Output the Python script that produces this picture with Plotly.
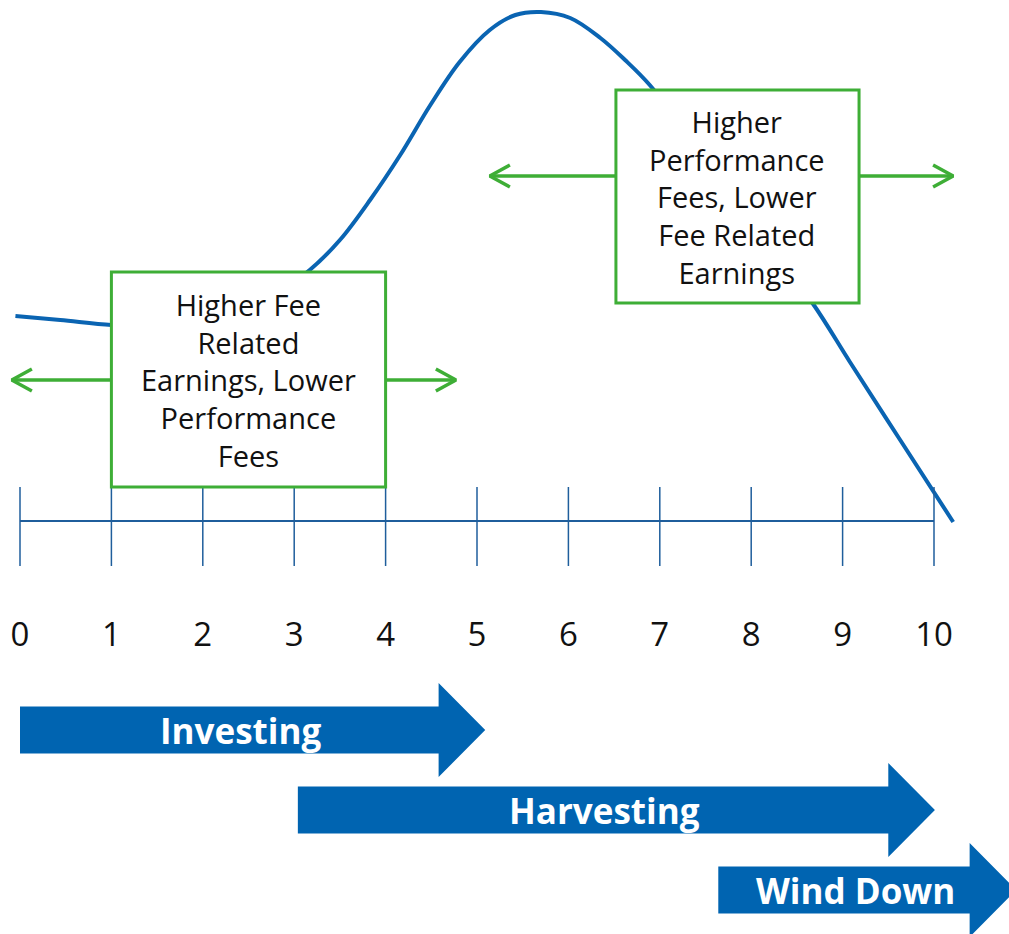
import plotly.graph_objects as go

# ---------------- data ----------------
# fund-life curve (x in years, y = height above the timeline, arbitrary units)
curve_x = [-0.05, 0.44, 1.0, 1.53, 2.19, 2.74, 3.17, 3.50, 3.83, 4.16, 4.49, 4.81,
           5.14, 5.42, 5.70, 6.02, 6.35, 6.62, 6.89, 7.44, 8.10, 8.67, 9.08, 9.63, 10.21]
curve_y = [205, 201, 196, 194, 203, 223, 251, 281, 321, 366, 416, 459,
           491, 506, 509, 503, 483, 461, 436, 371, 286, 218, 159, 81, -1]

# timeline
years = list(range(0, 11))
year_labels = [str(v) for v in years]

# callout boxes
box_text = ["Higher Fee<br>Related<br>Earnings, Lower<br>Performance<br>Fees",
            "Higher<br>Performance<br>Fees, Lower<br>Fee Related<br>Earnings"]
box_x0 = [1.0, 6.52]
box_x1 = [4.0, 9.18]
box_y0 = [34, 218]
box_y1 = [249, 431]
box_arrow_y = [141, 345]
box_arrow_left = [-0.09, 5.14]
box_arrow_right = [4.77, 10.21]

# phases
phases = ["Investing", "Harvesting", "Wind Down"]
phase_start = [0.0, 3.04, 7.64]
phase_end = [5.09, 10.01, 10.90]
phase_level = [-209, -289, -369]

# ---------------- style ----------------
BLUE = "#0A64B2"
ARROW_BLUE = "#0064B1"
AXIS_BLUE = "#1F5E9C"
GREEN = "#3EAE36"
FONT = "Open Sans, Noto Sans, sans-serif"

X_RANGE = [-0.2188, 10.8206]
Y_RANGE = [-413, 521]
TICK_UP, TICK_DOWN = 34, -45
LABEL_Y = -117
HEAD_LEN = 0.51
BODY_HALF = 23.5
HEAD_HALF = 47
CHEV_DX = 0.22
CHEV_DY = 11

fig = go.Figure()

# curve
fig.add_trace(go.Scatter(x=curve_x, y=curve_y, mode="lines",
                         line=dict(color=BLUE, width=4, shape="spline", smoothing=1.0),
                         hoverinfo="skip", showlegend=False))

# timeline baseline
fig.add_trace(go.Scatter(x=[years[0], years[-1]], y=[0, 0], mode="lines",
                         line=dict(color=AXIS_BLUE, width=2),
                         hoverinfo="skip", showlegend=False))
# tick marks
tx, ty = [], []
for v in years:
    tx += [v, v, None]
    ty += [TICK_DOWN, TICK_UP, None]
fig.add_trace(go.Scatter(x=tx, y=ty, mode="lines",
                         line=dict(color=AXIS_BLUE, width=1.5),
                         hoverinfo="skip", showlegend=False))
# tick labels
fig.add_trace(go.Scatter(x=years, y=[LABEL_Y] * len(years), mode="text",
                         text=year_labels, textposition="middle center",
                         textfont=dict(family=FONT, size=33, color="#111111"),
                         hoverinfo="skip", showlegend=False))

# green double arrows out of the callout boxes
for i in range(len(box_text)):
    yv = box_arrow_y[i]
    lt = box_arrow_left[i]
    fig.add_trace(go.Scatter(
        x=[box_x0[i], lt, None, lt + CHEV_DX, lt, lt + CHEV_DX],
        y=[yv, yv, None, yv + CHEV_DY, yv, yv - CHEV_DY],
        mode="lines", line=dict(color=GREEN, width=3.5),
        hoverinfo="skip", showlegend=False))
    rt = box_arrow_right[i]
    fig.add_trace(go.Scatter(
        x=[box_x1[i], rt, None, rt - CHEV_DX, rt, rt - CHEV_DX],
        y=[yv, yv, None, yv + CHEV_DY, yv, yv - CHEV_DY],
        mode="lines", line=dict(color=GREEN, width=3.5),
        hoverinfo="skip", showlegend=False))

# callout boxes (drawn above the curve so they hide it)
for i in range(len(box_text)):
    fig.add_shape(type="rect", x0=box_x0[i], x1=box_x1[i], y0=box_y0[i], y1=box_y1[i],
                  xref="x", yref="y", layer="above",
                  line=dict(color=GREEN, width=3), fillcolor="white")
    fig.add_annotation(x=(box_x0[i] + box_x1[i]) / 2, y=(box_y0[i] + box_y1[i]) / 2,
                       xref="x", yref="y", text=box_text[i], showarrow=False,
                       align="center", xanchor="center", yanchor="middle",
                       font=dict(family=FONT, size=29, color="#111111"))

# phase arrows
for i, name in enumerate(phases):
    s, e, c = phase_start[i], phase_end[i], phase_level[i]
    hs = e - HEAD_LEN
    fig.add_trace(go.Scatter(
        x=[s, hs, hs, e, hs, hs, s, s],
        y=[c + BODY_HALF, c + BODY_HALF, c + HEAD_HALF, c, c - HEAD_HALF,
           c - BODY_HALF, c - BODY_HALF, c + BODY_HALF],
        mode="lines", fill="toself", fillcolor=ARROW_BLUE,
        line=dict(color=ARROW_BLUE, width=0),
        hoverinfo="skip", showlegend=False))
    fig.add_annotation(x=(s + e) / 2 - 0.13, y=c, xref="x", yref="y",
                       text="<b>" + name + "</b>", showarrow=False,
                       xanchor="center", yanchor="middle",
                       font=dict(family=FONT, size=35, color="white"))

fig.update_layout(
    width=1009, height=934,
    margin=dict(l=0, r=0, t=0, b=0),
    paper_bgcolor="white", plot_bgcolor="white",
    xaxis=dict(range=X_RANGE, visible=False, fixedrange=True),
    yaxis=dict(range=Y_RANGE, visible=False, fixedrange=True),
    showlegend=False,
)

fig.write_html("out.html",
               config={"displayModeBar": False},
               post_script="document.body.style.margin='0';document.body.style.overflow='hidden';")
